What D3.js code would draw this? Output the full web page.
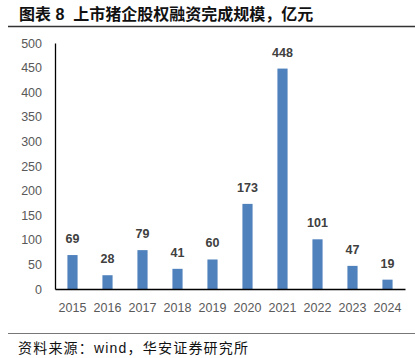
<!DOCTYPE html>
<html>
<head>
<meta charset="utf-8">
<script src="https://cdn.jsdelivr.net/npm/d3@7"></script>
<style>
  body { margin: 0; background: #fff; }
  text { font-family: "Liberation Sans", Arial, "Noto Sans CJK SC", sans-serif; }
</style>
</head>
<body>
<div id="chart"></div>
<script>
// Data
var years = ["2015", "2016", "2017", "2018", "2019", "2020", "2021", "2022", "2023", "2024"];
var amounts = [69, 28, 79, 41, 60, 173, 448, 101, 47, 19];
var yTicks = [0, 50, 100, 150, 200, 250, 300, 350, 400, 450, 500];

var svgWidth = 415;
var svgHeight = 358;

var margin = { top: 43, right: 10, bottom: 69, left: 55 };
var chartWidth = svgWidth - margin.left - margin.right;
var chartHeight = svgHeight - margin.top - margin.bottom;

var svg = d3.select("#chart")
    .append("svg")
    .attr("width", svgWidth)
    .attr("height", svgHeight);

// Title + rule
svg.append("text")
    .attr("x", 19)
    .attr("y", 20)
    .attr("font-size", "16px")
    .attr("font-weight", "bold")
    .attr("fill", "#111")
    .attr("xml:space", "preserve")
    .text("图表 8  上市猪企股权融资完成规模，亿元");

svg.append("line")
    .attr("x1", 8).attr("x2", svgWidth)
    .attr("y1", 26.5).attr("y2", 26.5)
    .attr("stroke", "#333")
    .attr("stroke-width", 1.3);

var chartGroup = svg.append("g")
    .attr("transform", `translate(${margin.left}, ${margin.top})`);

var xScale = d3.scaleBand()
    .domain(years)
    .range([0, chartWidth])
    .paddingInner(0.71)
    .paddingOuter(0.355);

var yScale = d3.scaleLinear()
    .domain([0, 500])
    .range([chartHeight, 0]);

// Bars
chartGroup.selectAll("rect")
    .data(amounts)
    .enter()
    .append("rect")
    .attr("x", (d, i) => xScale(years[i]))
    .attr("y", d => yScale(d))
    .attr("width", xScale.bandwidth())
    .attr("height", d => chartHeight - yScale(d))
    .attr("fill", "#4f81bd");

// Value labels
chartGroup.selectAll(".val")
    .data(amounts)
    .enter()
    .append("text")
    .attr("class", "val")
    .attr("x", (d, i) => xScale(years[i]) + xScale.bandwidth() / 2)
    .attr("y", d => yScale(d) - 12)
    .attr("text-anchor", "middle")
    .attr("font-size", "12.5px")
    .attr("font-weight", "bold")
    .attr("fill", "#404040")
    .text(d => d);

// Axes
var yAxis = d3.axisLeft(yScale).tickValues(yTicks).tickSize(0).tickPadding(13);
var xAxis = d3.axisBottom(xScale).tickSize(0).tickPadding(14);

var gy = chartGroup.append("g").call(yAxis);
gy.select(".domain").attr("stroke", "#000").attr("stroke-width", 1.3);
gy.selectAll("text").attr("font-size", "12.5px").attr("fill", "#595959")
    .style("font-family", "'Liberation Sans', Arial, sans-serif");

var gx = chartGroup.append("g")
    .attr("transform", `translate(0, ${chartHeight})`)
    .call(xAxis);
gx.select(".domain").attr("stroke", "#000").attr("stroke-width", 1.3);
gx.selectAll("text").attr("font-size", "12.5px").attr("fill", "#595959")
    .style("font-family", "'Liberation Sans', Arial, sans-serif");

// Footer rule + source
svg.append("line")
    .attr("x1", 8).attr("x2", svgWidth)
    .attr("y1", 333.5).attr("y2", 333.5)
    .attr("stroke", "#777")
    .attr("stroke-width", 1);

svg.append("text")
    .attr("x", 18)
    .attr("y", 353)
    .attr("font-size", "14px")
    .attr("letter-spacing", "1.2px")
    .attr("fill", "#111")
    .text("资料来源：wind，华安证券研究所");
</script>
</body>
</html>
